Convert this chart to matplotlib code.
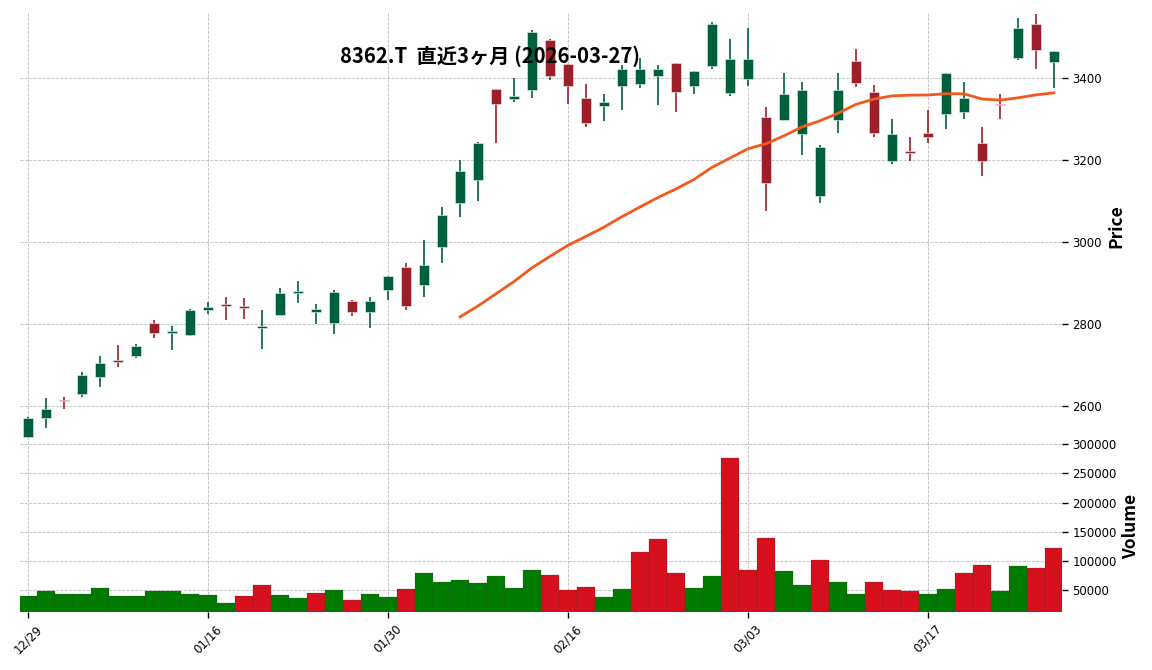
import matplotlib
matplotlib.use('Agg')
import matplotlib.pyplot as plt
import numpy as np
import pandas as pd

# daily data, 8362.T, 2025-12-29 .. 2026-03-27
dates = ['12/29', '12/30', '01/05', '01/06', '01/07', '01/08', '01/09', '01/13', '01/14', '01/15',
         '01/16', '01/19', '01/20', '01/21', '01/22', '01/23', '01/26', '01/27', '01/28', '01/29',
         '01/30', '02/02', '02/03', '02/04', '02/05', '02/06', '02/09', '02/10', '02/12', '02/13',
         '02/16', '02/17', '02/18', '02/19', '02/20', '02/24', '02/25', '02/26', '02/27', '03/02',
         '03/03', '03/04', '03/05', '03/06', '03/09', '03/10', '03/11', '03/12', '03/13', '03/16',
         '03/17', '03/18', '03/19', '03/23', '03/24', '03/25', '03/26', '03/27']
opens = [2524, 2570, 2615, 2628, 2670, 2713, 2721, 2803, 2777, 2772,
         2833, 2847, 2845, 2789, 2821, 2876, 2829, 2803, 2855, 2829,
         2882, 2938, 2894, 2987, 3094, 3150, 3372, 3350, 3370, 3492,
         3433, 3352, 3331, 3380, 3385, 3404, 3437, 3380, 3430, 3364,
         3398, 3305, 3298, 3264, 3111, 3298, 3442, 3366, 3198, 3222,
         3266, 3311, 3316, 3242, 3337, 3450, 3532, 3440]
highs = [2572, 2619, 2622, 2683, 2722, 2749, 2752, 2810, 2794, 2837,
         2854, 2866, 2863, 2834, 2888, 2905, 2849, 2882, 2859, 2866,
         2916, 2949, 3006, 3085, 3200, 3243, 3372, 3400, 3518, 3496,
         3433, 3385, 3360, 3431, 3450, 3431, 3437, 3418, 3536, 3494,
         3521, 3330, 3412, 3390, 3237, 3412, 3470, 3384, 3299, 3255,
         3322, 3412, 3390, 3280, 3360, 3546, 3555, 3466]
lows = [2522, 2546, 2593, 2622, 2646, 2695, 2716, 2766, 2737, 2771,
        2824, 2810, 2812, 2739, 2821, 2851, 2800, 2776, 2820, 2790,
        2859, 2834, 2866, 2949, 3061, 3100, 3242, 3342, 3351, 3394,
        3337, 3281, 3296, 3323, 3376, 3333, 3318, 3361, 3421, 3355,
        3380, 3075, 3298, 3211, 3094, 3265, 3379, 3255, 3190, 3198,
        3241, 3275, 3299, 3161, 3299, 3445, 3421, 3375]
closes = [2571, 2593, 2611, 2676, 2704, 2707, 2747, 2777, 2784, 2835,
          2842, 2845, 2840, 2796, 2875, 2881, 2837, 2879, 2829, 2857,
          2916, 2843, 2945, 3067, 3172, 3242, 3336, 3356, 3513, 3404,
          3380, 3290, 3342, 3423, 3423, 3423, 3365, 3418, 3532, 3446,
          3446, 3145, 3361, 3371, 3232, 3371, 3389, 3265, 3263, 3216,
          3255, 3412, 3351, 3198, 3333, 3522, 3468, 3466]
volumes = [40300, 48900, 43700, 43700, 54000, 40300, 40300, 48900, 48900, 43700,
           42000, 28300, 40300, 59100, 42000, 36900, 45400, 50600, 33500, 43700,
           38600, 52300, 79700, 64300, 67700, 62600, 74500, 54000, 84800, 76300,
           50600, 55700, 38600, 52300, 115600, 137900, 79700, 54000, 74500, 276600,
           84800, 139600, 83100, 59100, 101900, 64300, 43700, 64300, 50600, 48900,
           43700, 52300, 79700, 93400, 49400, 91700, 88200, 122500]

title = '8362.T  直近3ヶ月 (2026-03-27)'
mav = 25

c_up = '#00603c'
c_down = '#9c1f2a'
v_up = '#007a00'
v_down = '#d50f1b'
ma_color = '#f15a1f'
grid_c = '#bdbdbd'

cjk = ['Noto Sans CJK JP', 'DejaVu Sans']

x = np.arange(len(closes))
o = np.array(opens, dtype=float)
c = np.array(closes, dtype=float)
ma = pd.Series(c).rolling(mav).mean()

fig = plt.figure(figsize=(11.52, 6.7), dpi=100)
W, H = 1152.0, 670.0
L, R = 20, 1062
ax_p = fig.add_axes([L / W, (H - 440) / H, (R - L) / W, 428 / H])
ax_v = fig.add_axes([L / W, (H - 612) / H, (R - L) / W, 172 / H], sharex=ax_p)

# candles
up = c >= o
ccol = [c_up if u else c_down for u in up]
ax_p.vlines(x, lows, highs, colors=ccol, linewidth=1.2, zorder=2)
body = np.maximum(np.abs(c - o), 3)
ax_p.bar(x, body, bottom=np.minimum(o, c), width=0.6, color=ccol,
         edgecolor='#e8f2ec', linewidth=0.4, zorder=3)
ax_p.plot(x, ma, color=ma_color, linewidth=2, zorder=4)

# volume, coloured by close vs previous close
vcol = [v_up if o[0] < c[0] else v_down]
vcol += [v_up if c[i - 1] < c[i] else v_down for i in range(1, len(c))]
ax_v.bar(x, volumes, width=1.0, color=vcol, edgecolor='#3a3a3a', linewidth=0.15, zorder=3)

ax_p.set_xlim(-0.45, len(x) - 0.55)
ax_p.set_ylim(2517, 3561)
ax_v.set_ylim(12800, 307000)

ax_p.set_yticks([2600, 2800, 3000, 3200, 3400])
ax_v.set_yticks([50000, 100000, 150000, 200000, 250000, 300000])
ax_v.set_yticklabels([str(v) for v in [50000, 100000, 150000, 200000, 250000, 300000]])
tick_idx = list(range(0, len(x), 10))
ax_v.set_xticks(tick_idx)
ax_v.set_xticklabels([dates[i] for i in tick_idx], rotation=45, fontsize=8.5)

for ax in (ax_p, ax_v):
    for s in ax.spines.values():
        s.set_visible(False)
    ax.yaxis.tick_right()
    ax.yaxis.set_label_position('right')
    ax.tick_params(axis='y', labelsize=8.5, length=4, width=1)
    ax.grid(True, linestyle='--', color=grid_c, linewidth=0.6, zorder=0)
    ax.set_axisbelow(True)
ax_p.tick_params(axis='x', bottom=False, labelbottom=False)
ax_v.tick_params(axis='x', length=4, width=1)

ax_p.set_ylabel('Price', family=cjk, fontsize=12.5, fontweight='bold')
ax_v.set_ylabel('Volume', family=cjk, fontsize=12.5, fontweight='bold')

fig.text(490 / W, 1 - 56 / H, title, family=cjk, fontsize=14.6, fontweight='bold',
         ha='center', va='center')

fig.savefig('out.png', dpi=100)
